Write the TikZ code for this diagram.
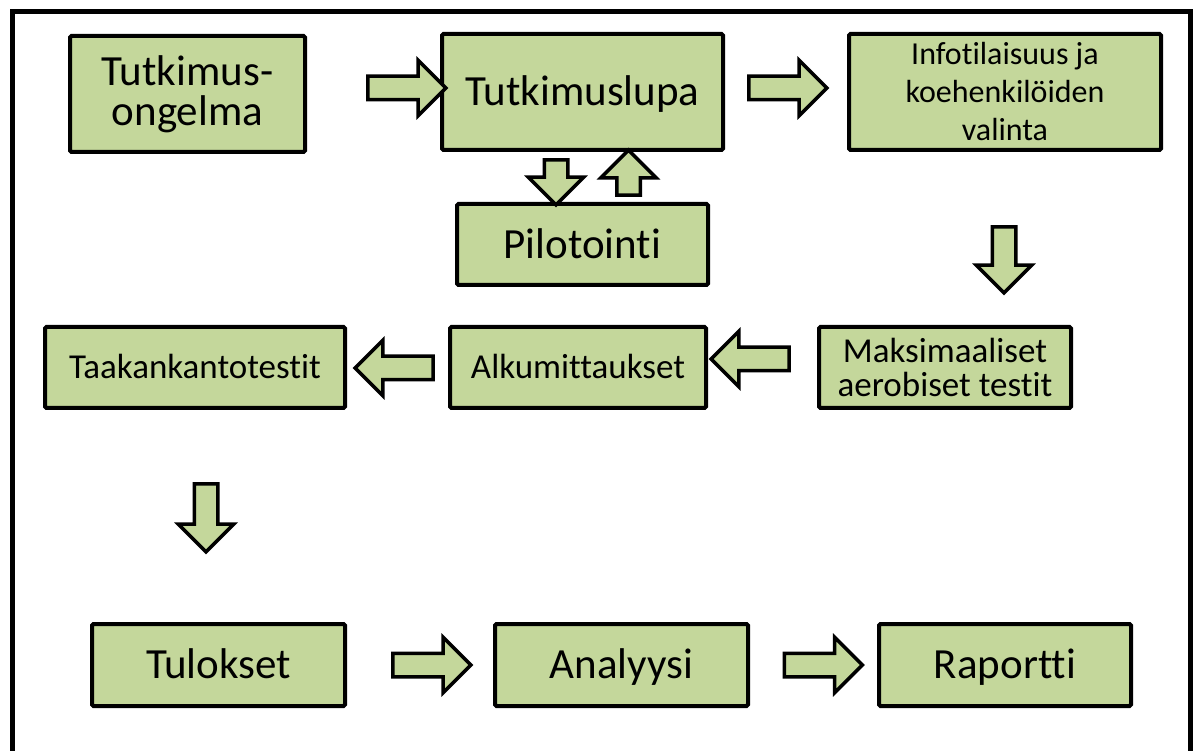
\documentclass[tikz,border=0pt]{standalone}
\usepackage{fontspec}
\setmainfont{Carlito}[Ligatures=NoCommon]
\usetikzlibrary{shapes.arrows, positioning}
\definecolor{boxgreen}{RGB}{196,215,155}
\newcommand{\bigtxt}{\fontsize{43}{40}\selectfont}
\newcommand{\midtxt}{\fontsize{35}{34}\selectfont}
\newcommand{\infotxt}{\fontsize{32}{38}\selectfont}

\begin{document}
\begin{tikzpicture}[x=1pt,y=-1pt,
	phasebox/.style={draw,line width=4pt,fill=boxgreen,rounded corners=1.5pt,align=center,inner sep=0pt},
	bigline/.style={font=\bigtxt,text height=36.5pt,text depth=8.8pt},
	midline/.style={font=\midtxt,text height=29.8pt,text depth=7.2pt},
	blockarrow/.style={draw,line width=3.5pt,fill=boxgreen,single arrow,single arrow head extend=16pt,inner sep=10pt,minimum height=78pt}
]
	\useasboundingbox (0,0) rectangle (1195,751);
	\draw[line width=5.5pt] (12.5,11.5) rectangle (1190.5,780);

	\node[phasebox,minimum width=235pt,minimum height=116pt,font=\bigtxt] at (187.5,94) (prob) {Tutkimus-\\ongelma};
	\node[phasebox,bigline,minimum width=281pt,minimum height=116pt] at (582.5,92) (lupa) {Tutkimuslupa};
	\node[phasebox,minimum width=312pt,minimum height=116pt,font=\infotxt] at (1005,92) (info) {Infotilaisuus ja\\koehenkilöiden\\valinta};
	\node[phasebox,bigline,minimum width=251pt,minimum height=81pt] at (582.5,244.5) (pilot) {Pilotointi};

	\node[phasebox,midline,minimum width=300pt,minimum height=81pt] at (195,367.5) (taakka) {Taakankantotestit};
	\node[phasebox,midline,minimum width=256pt,minimum height=81pt] at (578,367.5) (alku) {Alkumittaukset};
	\node[phasebox,minimum width=252pt,minimum height=81pt,font=\midtxt] at (945,367.5) (maksi) {Maksimaaliset\\aerobiset testit};

	\node[phasebox,bigline,minimum width=253pt,minimum height=82pt] at (218.5,665) (tulos) {Tulokset};
	\node[phasebox,bigline,minimum width=253pt,minimum height=82pt] at (621.5,665) (analyysi) {Analyysi};
	\node[phasebox,bigline,minimum width=252pt,minimum height=82pt] at (1005,665) (raportti) {Raportti};

	\node[blockarrow] at (401,88) (a1) {};
	\node[blockarrow] at (782,88) (a2) {};
	\node[blockarrow,rotate=-90,minimum height=45pt] at (556,176.5) (a3) {};
	\node[blockarrow,rotate=90,minimum height=45pt] at (628.5,178.5) (a4) {};
	\node[blockarrow,rotate=-90,minimum height=66pt] at (1004,254) (a5) {};
	\node[blockarrow,rotate=180] at (756,359) (a6) {};
	\node[blockarrow,rotate=180] at (400,368) (a7) {};
	\node[blockarrow,rotate=-90,minimum height=68pt] at (206,512) (a8) {};
	\node[blockarrow] at (426,665) (a9) {};
	\node[blockarrow] at (817.5,665) (a10) {};
\end{tikzpicture}
\end{document}
